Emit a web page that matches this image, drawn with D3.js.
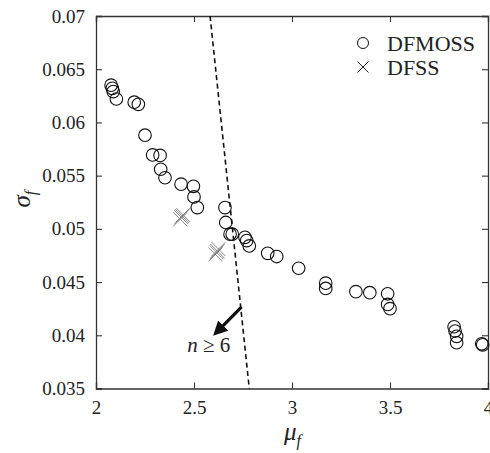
<!DOCTYPE html>
<html>
<head>
<meta charset="utf-8">
<script src="https://cdn.jsdelivr.net/npm/d3@7"></script>
<style>
  body { margin: 0; background: #fff; }
  svg text { font-family: "Liberation Serif", "Times New Roman", serif; fill: #222; }
</style>
</head>
<body>
<svg id="chart" width="490" height="453"></svg>
<script>
// DFMOSS puntos (mu_f, sigma_f)
const dfmossMu = [2.077, 2.083, 2.088, 2.104, 2.195, 2.216, 2.25, 2.289, 2.327, 2.33, 2.352,
  2.434, 2.497, 2.5, 2.517, 2.658, 2.662, 2.684, 2.695, 2.76, 2.769, 2.782, 2.876, 2.922,
  3.034, 3.172, 3.172, 3.326, 3.397, 3.488, 3.488, 3.5, 3.827, 3.832, 3.84, 3.84, 3.968, 3.973];
const dfmossSigma = [0.0635, 0.0632, 0.0629, 0.0622, 0.0619, 0.0617, 0.0588, 0.05695, 0.0569, 0.0556, 0.0548,
  0.0542, 0.0540, 0.0530, 0.0520, 0.0520, 0.0506, 0.0495, 0.0495, 0.0492, 0.0489, 0.0484, 0.0477, 0.0474,
  0.0463, 0.0449, 0.0444, 0.0441, 0.0440, 0.0439, 0.0429, 0.0425, 0.0408, 0.0404, 0.0399, 0.0393, 0.0392, 0.0391];

// DFSS puntos
const dfssMu = [2.430, 2.435, 2.440, 2.445, 2.610, 2.615, 2.620, 2.625];
const dfssSigma = [0.0509, 0.0511, 0.0512, 0.0513, 0.0476, 0.0478, 0.0479, 0.0481];

// Frontera n >= 6 y flecha
const boundaryMu = [2.582, 2.782];
const boundarySigma = [0.07, 0.035];
const arrowMu = [2.743, 2.603];
const arrowSigma = [0.04267, 0.04020];

const xTicks = [2, 2.5, 3, 3.5, 4];
const yTicks = [0.035, 0.04, 0.045, 0.05, 0.055, 0.06, 0.065, 0.07];
const legendLabels = ['DFMOSS', 'DFSS'];

const serif = '"Liberation Serif", "Times New Roman", serif';
const margen = { superior: 16, derecho: 2, inferior: 64.5, izquierdo: 96 };
const ancho = 490 - margen.izquierdo - margen.derecho;
const alto = 453 - margen.superior - margen.inferior;

const escalaX = d3.scaleLinear().domain([2, 4]).range([0, ancho]);
const escalaY = d3.scaleLinear().domain([0.035, 0.07]).range([alto, 0]);

const svg = d3.select('#chart')
  .append('g')
  .attr('transform', `translate(${margen.izquierdo}, ${margen.superior})`);

const fmt = d => d3.format('')(+d.toFixed(3));

// Ejes con marcas hacia dentro
const ejeX = svg.append('g')
  .attr('transform', `translate(0, ${alto})`)
  .call(d3.axisBottom(escalaX).tickValues(xTicks).tickSize(-6).tickPadding(12).tickFormat(fmt));
const ejeY = svg.append('g')
  .call(d3.axisLeft(escalaY).tickValues(yTicks).tickSize(-6).tickPadding(11).tickFormat(fmt));
const ejeTop = svg.append('g')
  .call(d3.axisTop(escalaX).tickValues(xTicks).tickSize(-6).tickFormat(''));
const ejeRight = svg.append('g')
  .attr('transform', `translate(${ancho}, 0)`)
  .call(d3.axisRight(escalaY).tickValues(yTicks).tickSize(-6).tickFormat(''));

[ejeX, ejeY, ejeTop, ejeRight].forEach(eje => {
  eje.attr('font-family', null).attr('font-size', null);
  eje.select('.domain').attr('stroke', '#333').attr('stroke-width', 1.3);
  eje.selectAll('.tick line').attr('stroke', '#333').attr('stroke-width', 1.1);
  eje.selectAll('.tick text')
    .style('font-family', serif)
    .style('font-size', '19px')
    .attr('fill', '#222');
});

// Linea discontinua
svg.append('line')
  .attr('x1', escalaX(boundaryMu[0])).attr('y1', escalaY(boundarySigma[0]))
  .attr('x2', escalaX(boundaryMu[1])).attr('y2', escalaY(boundarySigma[1]))
  .attr('stroke', '#111').attr('stroke-width', 1.6).attr('stroke-dasharray', '5,3.5');

// Flecha
svg.append('defs').append('marker')
  .attr('id', 'punta')
  .attr('viewBox', '0 0 10 10')
  .attr('refX', 2).attr('refY', 5)
  .attr('markerWidth', 4.5).attr('markerHeight', 4.5)
  .attr('orient', 'auto')
  .append('path').attr('d', 'M0,0 L10,5 L0,10 z').attr('fill', '#111');

svg.append('line')
  .attr('x1', escalaX(arrowMu[0])).attr('y1', escalaY(arrowSigma[0]))
  .attr('x2', escalaX(arrowMu[1]) + 7).attr('y2', escalaY(arrowSigma[1]) - 5.5)
  .attr('stroke', '#111').attr('stroke-width', 3.2)
  .attr('marker-end', 'url(#punta)');

const etiqueta = svg.append('text')
  .attr('x', escalaX(arrowMu[1]) - 27)
  .attr('y', escalaY(arrowSigma[1]) + 19)
  .style('font-family', serif)
  .style('font-size', '21px');
etiqueta.append('tspan').style('font-style', 'italic').text('n');
etiqueta.append('tspan').text(' \u2265 6');

// Cruces DFSS
const cruz = (g, cx, cy, s) => {
  g.append('path')
    .attr('d', `M${cx - s},${cy - s}L${cx + s},${cy + s}M${cx - s},${cy + s}L${cx + s},${cy - s}`)
    .attr('stroke', '#7a7a7a').attr('stroke-width', 0.9).attr('fill', 'none');
};
dfssMu.forEach((m, i) => cruz(svg, escalaX(m), escalaY(dfssSigma[i]), 7));

// Circulos DFMOSS
svg.selectAll('.dot')
  .data(dfmossMu.map((m, i) => [m, dfmossSigma[i]]))
  .enter()
  .append('circle')
  .attr('class', 'dot')
  .attr('cx', d => escalaX(d[0]))
  .attr('cy', d => escalaY(d[1]))
  .attr('r', 6.3)
  .attr('fill', 'none')
  .attr('stroke', '#111')
  .attr('stroke-width', 1.1);

// Leyenda
const leyenda = svg.append('g').attr('transform', `translate(${363 - margen.izquierdo}, ${43 - margen.superior})`);
leyenda.append('circle').attr('r', 5.5).attr('fill', 'none').attr('stroke', '#111').attr('stroke-width', 1);
leyenda.append('path').attr('d', 'M-5.5,18.5L5.5,29.5M-5.5,29.5L5.5,18.5').attr('stroke', '#222').attr('stroke-width', 1);
leyenda.selectAll('.leg')
  .data(legendLabels)
  .enter()
  .append('text')
  .attr('x', 24)
  .attr('y', (d, i) => 7.5 + i * 24)
  .style('font-family', serif)
  .style('font-size', '22px')
  .text(d => d);

// Titulos de ejes
const tituloX = d3.select('#chart').append('text')
  .attr('x', margen.izquierdo + escalaX(3) - 8)
  .attr('y', 440)
  .style('font-family', serif)
  .style('font-size', '25px');
tituloX.append('tspan').style('font-style', 'italic').text('\u03BC');
tituloX.append('tspan').style('font-style', 'italic').style('font-size', '16px').attr('dy', 6).text('f');

const tituloY = d3.select('#chart').append('text')
  .attr('transform', `translate(30, ${margen.superior + escalaY(0.052)}) rotate(-90)`)
  .style('font-family', serif)
  .style('font-size', '25px');
tituloY.append('tspan').style('font-style', 'italic').text('\u03C3');
tituloY.append('tspan').style('font-style', 'italic').style('font-size', '16px').attr('dy', 6).text('f');
</script>
</body>
</html>
